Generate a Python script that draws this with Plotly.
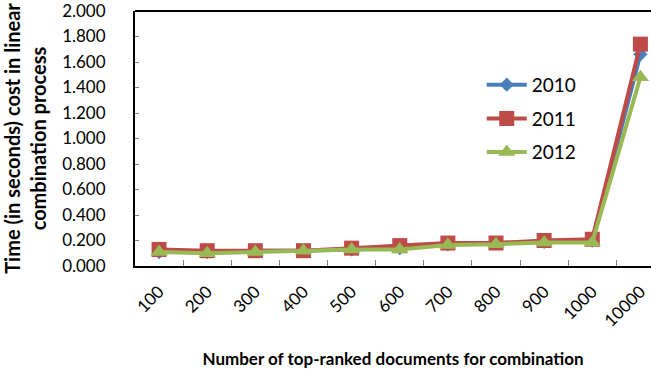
import plotly.graph_objects as go

categories = ["100", "200", "300", "400", "500", "600", "700", "800", "900", "1000", "10000"]
years = ["2010", "2011", "2012"]
vals_2010 = [0.11, 0.11, 0.12, 0.12, 0.13, 0.14, 0.17, 0.18, 0.19, 0.20, 1.66]
vals_2011 = [0.13, 0.12, 0.12, 0.12, 0.14, 0.16, 0.18, 0.18, 0.20, 0.21, 1.74]
vals_2012 = [0.11, 0.10, 0.11, 0.12, 0.13, 0.13, 0.165, 0.17, 0.185, 0.185, 1.48]
y_ticks = [0, 0.2, 0.4, 0.6, 0.8, 1.0, 1.2, 1.4, 1.6, 1.8, 2.0]

colors = ["#4A7EBB", "#BE4B48", "#98B954"]
symbols = ["diamond", "square", "triangle-up"]
sizes = [11, 15, 15]
series = [vals_2010, vals_2011, vals_2012]

FONT = "Lato"
fig = go.Figure()
for i, (name, vals) in enumerate(zip(years, series)):
    fig.add_trace(go.Scatter(
        x=list(range(len(categories))), y=vals, name=name, mode="lines+markers",
        line=dict(color=colors[i], width=4),
        marker=dict(symbol=symbols[i], size=sizes[i], color=colors[i]),
        legendgroup=name,
    ))

fig.update_layout(
    width=651, height=376,
    margin=dict(l=135, r=0, t=11, b=110),
    paper_bgcolor="white", plot_bgcolor="white",
    font=dict(family=FONT, size=15, color="black"),
    showlegend=True,
    legend=dict(x=0.672, y=0.785, xanchor="left", yanchor="top",
                font=dict(family=FONT, size=19, color="black"),
                bgcolor="rgba(0,0,0,0)", tracegroupgap=6, itemwidth=40,
                traceorder="grouped"),
    xaxis=dict(
        tickmode="array", tickvals=list(range(len(categories))), ticktext=categories,
        range=[-0.5, 10.22], tickangle=-45, showgrid=False, zeroline=False,
        showline=True, linecolor="black", linewidth=2, mirror=False,
        ticks="", tickfont=dict(family=FONT, size=17), ticklabelstandoff=7,
        ticklabeloverflow="allow", automargin=False,
        title=dict(text="<b>Number of top-ranked documents for combination</b>",
                   font=dict(family=FONT, size=17), standoff=23),
    ),
    yaxis=dict(
        range=[0, 2.0], tickmode="array", tickvals=y_ticks, tickformat=".3f",
        showgrid=False, zeroline=False, showline=True, linecolor="black", linewidth=2,
        ticks="inside", ticklen=4, tickcolor="#808080",
        tickfont=dict(family=FONT, size=17), ticklabelstandoff=24,
        ticklabeloverflow="allow", automargin=False,
        title=dict(text="<b>Time (in seconds) cost in linear<br>combination process</b>",
                   font=dict(family=FONT, size=20)),
    ),
)

fig.add_shape(type="line", xref="paper", yref="paper", x0=0, x1=1, y0=1, y1=1,
              line=dict(color="black", width=2))
fig.update_xaxes(minor=dict(tickmode="array",
                            tickvals=[i + 0.5 for i in range(len(categories))],
                            ticks="inside", ticklen=6, tickcolor="#808080"))

fig.write_html("out.html", config={"displayModeBar": False},
               post_script="document.body.style.margin='0';")
